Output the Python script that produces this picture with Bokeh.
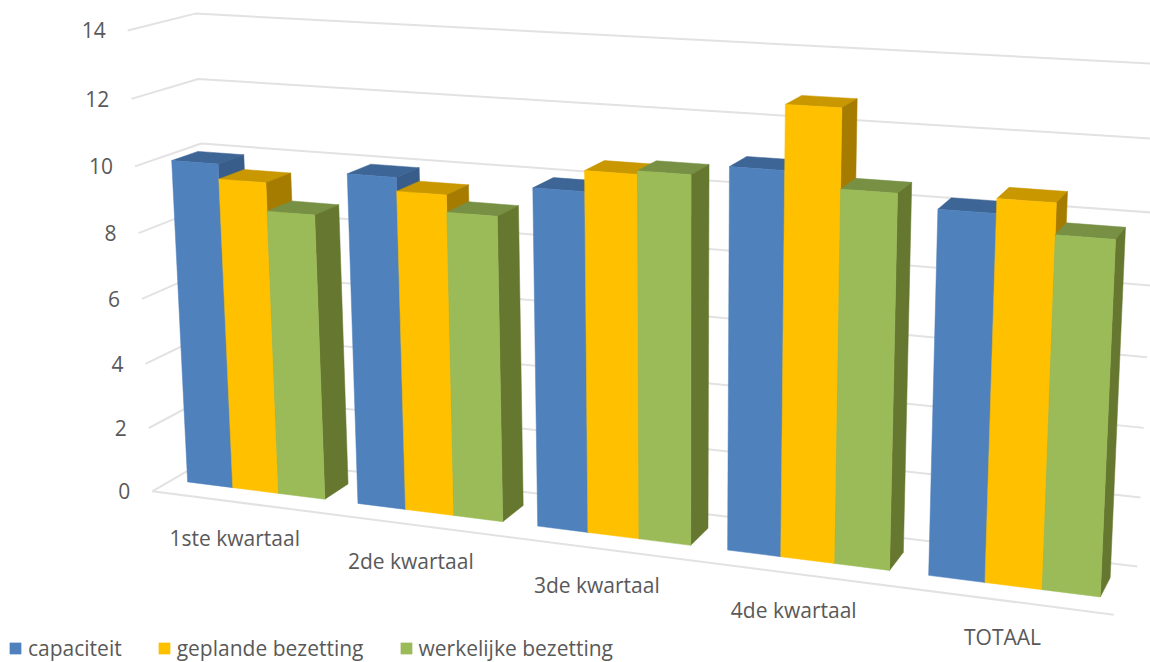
import numpy as np
from bokeh.plotting import figure
from bokeh.models import Range1d, Legend, LegendItem
from bokeh.core.properties import value
from bokeh.embed import file_html
from bokeh.resources import INLINE

categories = ["1ste kwartaal", "2de kwartaal", "3de kwartaal", "4de kwartaal", "TOTAAL"]
capaciteit = [10, 10, 10, 11, 10.25]
geplande = [9.55, 9.6, 10.6, 12.8, 10.65]
werkelijke = [8.7, 9.1, 10.7, 10.6, 9.8]
y_ticks = [0, 2, 4, 6, 8, 10, 12, 14]
series_names = ["capaciteit", "geplande bezetting", "werkelijke bezetting"]
series_values = [capaciteit, geplande, werkelijke]

FRONT = ["#4F81BD", "#FFC000", "#9BBB59"]
SIDE = ["#385D8A", "#A67C00", "#66782F"]
TOP = ["#3D6595", "#C99700", "#779044"]
GRID = "#E2E2E2"
TEXT = "#595959"
FONT = "Open Sans"
YMAX = 14.0
GAP_U = 0.095
V0, V1 = 0.30, 0.70

# Camera calibration: (u along categories, v depth, h height fraction) -> page pixel
calib = [
    ((0, 0, 0), (153, 490)), ((0, 0, 1), (126, 30)),
    ((0, 1, 0), (214, 455)), ((0, 1, 1), (196, 13)),
    ((1, 1, 0), (1137, 565)), ((1, 1, 1), (1160, 63.5)),
    ((1, 0, 0), (1113, 615)),
]
A = []
for (u, v, h), (x, y) in calib:
    A.append([u, v, h, 1, 0, 0, 0, 0, -x*u, -x*v, -x*h, -x])
    A.append([0, 0, 0, 0, u, v, h, 1, -y*u, -y*v, -y*h, -y])
P = np.linalg.svd(np.array(A, float))[2][-1].reshape(3, 4)


def proj(u, v, val):
    q = P @ np.array([u, v, val / YMAX, 1.0])
    return q[0] / q[2], q[1] / q[2]


def quad(*pts):
    c = [proj(*t) for t in pts]
    return [a for a, _ in c], [b for _, b in c]


p = figure(width=1150, height=662, output_backend="svg", toolbar_location=None,
           x_range=Range1d(0, 1150), y_range=Range1d(662, 0), min_border=0,
           outline_line_color=None, background_fill_color="white",
           border_fill_color="white")
p.axis.visible = False
p.grid.visible = False

# gridlines on left and back walls
gx, gy = [], []
for t in y_ticks:
    a, b, c = proj(0, 0, t), proj(0, 1, t), proj(1, 1, t)
    gx.append([a[0], b[0], c[0]])
    gy.append([a[1], b[1], c[1]])
a, b = proj(0, 0, 0), proj(1, 0, 0)
gx.append([a[0], b[0]])
gy.append([a[1], b[1]])
p.multi_line(gx, gy, line_color=GRID, line_width=2)

# bars
n = len(categories)
bw = (1 - 2 * GAP_U) / 3 / n
items = []
for s, vals in enumerate(series_values):
    tx, ty, sx, sy, fx, fy = [], [], [], [], [], []
    for i, val in enumerate(vals):
        u0 = (i + GAP_U) / n + s * bw
        u1 = u0 + bw
        X, Y = quad((u0, V0, val), (u1, V0, val), (u1, V1, val), (u0, V1, val))
        tx.append(X); ty.append(Y)
        X, Y = quad((u1, V0, 0), (u1, V1, 0), (u1, V1, val), (u1, V0, val))
        sx.append(X); sy.append(Y)
        X, Y = quad((u0, V0, 0), (u1, V0, 0), (u1, V0, val), (u0, V0, val))
        fx.append(X); fy.append(Y)
    p.patches(tx, ty, fill_color=TOP[s], line_color=TOP[s], line_width=0.5)
    p.patches(sx, sy, fill_color=SIDE[s], line_color=SIDE[s], line_width=0.5)
    r = p.patches(fx, fy, fill_color=FRONT[s], line_color=FRONT[s], line_width=0.5)
    items.append(LegendItem(label=series_names[s], renderers=[r]))

# y tick labels
lx = [proj(0, 0, t)[0] - 22 for t in y_ticks]
ly = [proj(0, 0, t)[1] for t in y_ticks]
p.text(lx, ly, text=[str(t) for t in y_ticks], text_font=value(FONT), text_font_size="21px",
       text_color=TEXT, text_align="right", text_baseline="middle")

# category labels
cx = [proj((i + 0.5) / n, 0, 0)[0] - 2 for i in range(n)]
cy = [proj((i + 0.5) / n, 0, 0)[1] + 36 for i in range(n)]
p.text(cx, cy, text=categories, text_font=value(FONT), text_font_size="21px",
       text_color=TEXT, text_align="center", text_baseline="middle")

legend = Legend(items=items, orientation="horizontal", location=(8, 0), margin=0, padding=0,
                spacing=35, glyph_width=14, glyph_height=14, label_standoff=6,
                label_text_font=FONT, label_text_font_size="21px", label_text_color=TEXT,
                border_line_color=None, background_fill_alpha=0)
p.add_layout(legend, "center")

open("out.html", "w").write(file_html(p, INLINE))
